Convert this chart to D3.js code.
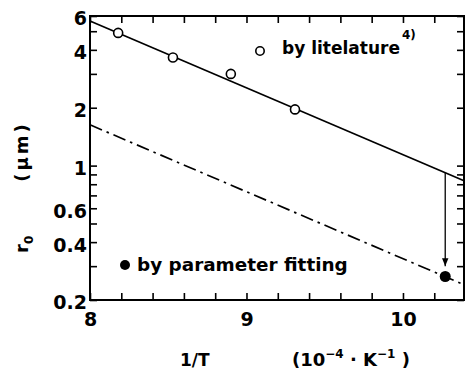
<html>
<head>
<script src="https://d3js.org/d3.v7.min.js"></script>
<style>
  body { margin: 0; background: #fff; }
  text { font-family: "DejaVu Sans", sans-serif; font-weight: bold; fill: #000; }
</style>
</head>
<body>
<svg width="468" height="372"></svg>
<script>
// data
const literX = [8.18, 8.53, 8.90, 9.31];
const literY = [4.9, 3.65, 3.0, 1.96];
const fitX = [10.27];
const fitY = [0.265];
const solidX = [8, 10.39];
const solidY = [5.65, 0.835];
const dashX = [8, 10.39];
const dashY = [1.63, 0.24];
const arrowX = [10.27, 10.27];
const arrowY = [0.915, 0.30];

const xTicks = [8, 8.2, 8.4, 8.6, 8.8, 9, 9.2, 9.4, 9.6, 9.8, 10, 10.2];
const xLabels = [8, 9, 10];
const yTicks = [0.2, 0.3, 0.4, 0.5, 0.6, 0.7, 0.8, 0.9, 1, 2, 3, 4, 5, 6];
const yLabels = [0.2, 0.4, 0.6, 1, 2, 4, 6];

const L = 90, R = 464, T = 16, B = 300;
const x = d3.scaleLinear().domain([8, 10.39]).range([L, R]);
const y = d3.scaleLog().domain([0.2, 6]).range([B, T]);

const svg = d3.select('svg');

// ticks (inward on all four sides)
const fx = d => xLabels.includes(d) ? d3.format('d')(d) : '';
const fy = d => yLabels.includes(d) ? String(d) : '';

svg.append('g').attr('transform', `translate(0,${B})`)
  .call(d3.axisBottom(x).tickValues(xTicks).tickSize(-7).tickPadding(13).tickFormat(fx))
  .call(g => g.selectAll('text').style('font-size', '19px'));
svg.append('g').attr('transform', `translate(0,${T})`)
  .call(d3.axisTop(x).tickValues(xTicks).tickSize(-7).tickFormat(''));
svg.append('g').attr('transform', `translate(${L},0)`)
  .call(d3.axisLeft(y).tickValues(yTicks).tickSize(-7).tickPadding(3).tickFormat(fy))
  .call(g => g.selectAll('text').style('font-size', '19px').attr('dy', '0.47em'));
svg.append('g').attr('transform', `translate(${R},0)`)
  .call(d3.axisRight(y).tickValues(yTicks).tickSize(-7).tickFormat(''));

svg.selectAll('.domain').remove();
svg.selectAll('.tick line').attr('stroke', '#000').attr('stroke-width', 1.6);

// frame
svg.append('rect').attr('x', L).attr('y', T).attr('width', R - L).attr('height', B - T)
  .attr('fill', 'none').attr('stroke', '#000').attr('stroke-width', 2);

// lines
const line = d3.line().x(d => x(d[0])).y(d => y(d[1]));
svg.append('path').datum(d3.zip(solidX, solidY)).attr('d', line)
  .attr('fill', 'none').attr('stroke', '#000').attr('stroke-width', 1.7);
svg.append('path').datum(d3.zip(dashX, dashY)).attr('d', line)
  .attr('fill', 'none').attr('stroke', '#000').attr('stroke-width', 1.7)
  .attr('stroke-dasharray', '13,5,2.5,5');

// arrow
svg.append('defs').append('marker').attr('id', 'ah')
  .attr('viewBox', '0 0 10 10').attr('refX', 10).attr('refY', 5)
  .attr('markerUnits', 'userSpaceOnUse').attr('markerWidth', 8).attr('markerHeight', 8)
  .attr('orient', 'auto')
  .append('path').attr('d', 'M0,1L10,5L0,9Z').attr('fill', '#000');
svg.append('path').datum(d3.zip(arrowX, arrowY)).attr('d', line)
  .attr('fill', 'none').attr('stroke', '#000').attr('stroke-width', 1.3)
  .attr('marker-end', 'url(#ah)');

// points
svg.selectAll('circle.lit').data(d3.zip(literX, literY)).join('circle')
  .attr('class', 'lit').attr('cx', d => x(d[0])).attr('cy', d => y(d[1])).attr('r', 4.5)
  .attr('fill', '#fff').attr('stroke', '#000').attr('stroke-width', 1.6);
svg.selectAll('circle.fit').data(d3.zip(fitX, fitY)).join('circle')
  .attr('class', 'fit').attr('cx', d => x(d[0])).attr('cy', d => y(d[1])).attr('r', 5.5)
  .attr('fill', '#000');

// legends
svg.append('circle').attr('cx', 260).attr('cy', 51).attr('r', 4.2)
  .attr('fill', 'none').attr('stroke', '#000').attr('stroke-width', 1.6);
const t1 = svg.append('text').attr('x', 282).attr('y', 54).style('font-size', '17px');
t1.append('tspan').text('by litelature');
t1.append('tspan').attr('dx', 2).attr('dy', -15).style('font-size', '12px').text('4)');

svg.append('circle').attr('cx', 125).attr('cy', 265).attr('r', 5).attr('fill', '#000');
svg.append('text').attr('x', 137).attr('y', 271).style('font-size', '18.4px')
  .text('by parameter fitting');

// axis titles
svg.append('text').attr('x', 180).attr('y', 366).style('font-size', '17px').text('1/T');
const t2 = svg.append('text').attr('x', 292).attr('y', 366).style('font-size', '18px');
t2.append('tspan').text('(10');
t2.append('tspan').attr('dy', -8).style('font-size', '12px').text('−4');
t2.append('tspan').attr('dy', 8).text(' · K');
t2.append('tspan').attr('dy', -8).style('font-size', '12px').text('−1');
t2.append('tspan').attr('dy', 8).text('  )');

const yl = svg.append('text').attr('transform', 'translate(28,253) rotate(-90)')
  .style('font-size', '18px');
yl.append('tspan').text('r');
yl.append('tspan').attr('dy', 5).style('font-size', '12px').text('0');
yl.append('tspan').attr('dy', -5).attr('dx', 54).style('letter-spacing', '3px').text('(μm)');
</script>
</body>
</html>
